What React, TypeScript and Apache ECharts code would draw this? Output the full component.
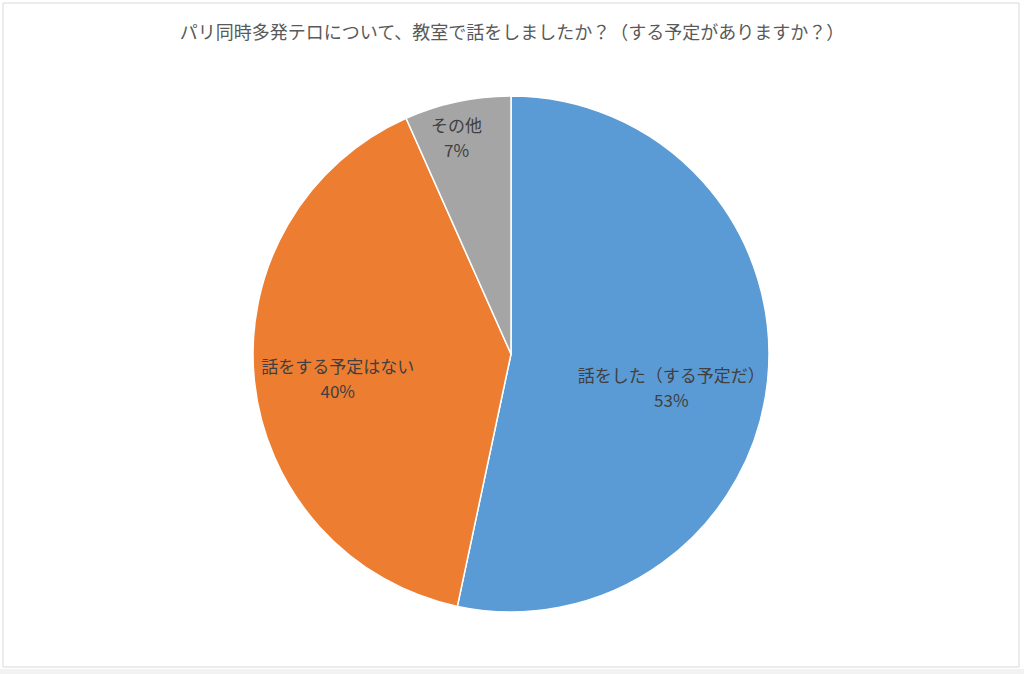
import { useEffect, useRef } from "react";
import * as echarts from "echarts";

const titleText =
  "パリ同時多発テロについて、教室で話をしましたか？（する予定がありますか？）";
const categories = ["話をした（する予定だ）", "話をする予定はない", "その他"];
// respondent counts (8/15 = 53%, 6/15 = 40%, 1/15 = 7%)
const values = [8, 6, 1];
const colors = ["#5B9BD5", "#ED7D31", "#A5A5A5"];

// Excel "best fit" label nudges relative to echarts' inside position
const labelNudge = [
  [29, 19],
  [-42, 10],
  [-27, -88],
];

export default function App() {
  const chartRef = useRef<HTMLDivElement>(null);

  useEffect(() => {
    document.body.style.margin = "0";
    if (!chartRef.current) return;
    const chart = echarts.init(chartRef.current, undefined, { renderer: "svg" });

    chart.setOption({
      animation: false,
      backgroundColor: "#ffffff",
      textStyle: { fontFamily: "'Noto Sans CJK JP', 'Noto Sans', sans-serif" },
      graphic: [
        {
          type: "rect",
          shape: { x: 3, y: 3, width: 1016, height: 664 },
          style: { fill: "#ffffff", stroke: "#d9d9d9", lineWidth: 1 },
          z: -10,
        },
        {
          type: "rect",
          shape: { x: 0, y: 669, width: 1024, height: 5 },
          style: { fill: "#f2f2f2" },
          z: -10,
        },
      ],
      title: {
        text: titleText,
        left: "center",
        top: 17,
        textStyle: {
          fontSize: 18,
          fontWeight: "normal",
          color: "#595959",
          fontFamily: "'Noto Sans CJK JP', sans-serif",
        },
      },
      series: [
        {
          type: "pie",
          center: [511, 354],
          radius: 258,
          startAngle: 90,
          clockwise: true,
          percentPrecision: 0,
          data: categories.map((name, i) => ({
            name,
            value: values[i],
            itemStyle: { color: colors[i] },
          })),
          itemStyle: { borderColor: "#ffffff", borderWidth: 1.5 },
          label: {
            show: true,
            position: "inside",
            formatter: "{b}\n{d}%",
            color: "#404040",
            fontSize: 17,
            lineHeight: 25,
            fontFamily: "'Noto Sans CJK JP', sans-serif",
          },
          labelLine: { show: false },
          labelLayout: (params: any) => ({
            dx: labelNudge[params.dataIndex][0],
            dy: labelNudge[params.dataIndex][1],
          }),
          emphasis: { disabled: true },
        },
      ],
    });

    return () => chart.dispose();
  }, []);

  return <div ref={chartRef} style={{ width: 1024, height: 674 }} />;
}
